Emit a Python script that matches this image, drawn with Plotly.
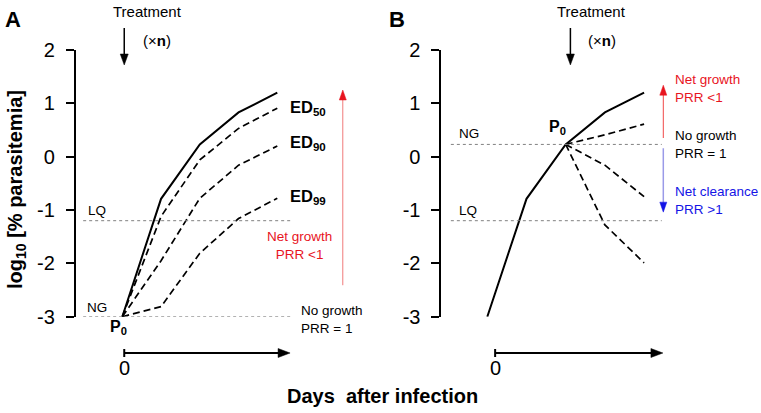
import plotly.graph_objects as go

# ---------------- data ----------------
days = [0, 1, 2, 3, 4]
untreated = [-3.0, -0.79, 0.23, 0.83, 1.2]
ed50 = [-3.0, -1.12, -0.06, 0.53, 0.91]
ed90 = [-3.0, -1.95, -0.78, -0.16, 0.2]
ed99 = [-3.0, -2.81, -1.81, -1.16, -0.78]

days_treat = [2, 3, 4]
b_growth = [0.23, 0.41, 0.61]
b_slow = [0.23, -0.16, -0.75]
b_fast = [0.23, -1.28, -1.99]

ed_labels = ["ED<sub>50</sub>", "ED<sub>90</sub>", "ED<sub>99</sub>"]
yticks = [-3, -2, -1, 0, 1, 2]
yticktext = ["-3", "-2", "-1", "0", "1", "2"]
LQ = -1.2
NG_A = untreated[0]
NG_B = untreated[2]

# ---------------- geometry ----------------
W, H = 761, 413
FONT = "Liberation Sans, Arial, sans-serif"
RED = "#e8141e"
BLUE = "#1414e6"

xA0, pxA = 122.3, 38.75
xB0, pxB = 487.3, 39.2
rA = [-1.2, 6.2]
rB = [-1.17, 6.9]
domA = [(xA0 + rA[0] * pxA) / W, (xA0 + rA[1] * pxA) / W]
domB = [(xB0 + rB[0] * pxB) / W, (xB0 + rB[1] * pxB) / W]
ydom = [1 - 316.7 / H, 1 - 50 / H]


def py(p):
    return 1 - p / H


fig = go.Figure()

solid = dict(color="black", width=2)
dashed = dict(color="black", width=1.7, dash="7px,4px")

fig.add_trace(go.Scatter(x=days, y=untreated, mode="lines", line=solid, xaxis="x", yaxis="y", showlegend=False))
for s in (ed50, ed90, ed99):
    fig.add_trace(go.Scatter(x=days, y=s, mode="lines", line=dashed, xaxis="x", yaxis="y", showlegend=False))

fig.add_trace(go.Scatter(x=days, y=untreated, mode="lines", line=solid, xaxis="x2", yaxis="y2", showlegend=False))
for s in (b_growth, b_slow, b_fast):
    fig.add_trace(go.Scatter(x=days_treat, y=s, mode="lines", line=dashed, xaxis="x2", yaxis="y2", showlegend=False))

yax = dict(range=[-3, 2], domain=ydom, tickvals=yticks, ticktext=yticktext, automargin=False,
           showline=True, linecolor="black", linewidth=2, ticks="outside",
           ticklen=8, tickwidth=2, tickcolor="black", showgrid=False, zeroline=False,
           ticklabelstandoff=7,
           tickfont=dict(family=FONT, size=20, color="black"), fixedrange=True)

fig.update_layout(
    template="none",
    width=W, height=H, margin=dict(l=0, r=0, t=0, b=0, pad=0), autosize=False,
    paper_bgcolor="white", plot_bgcolor="white", showlegend=False,
    xaxis=dict(range=rA, domain=domA, visible=False, anchor="y", automargin=False),
    yaxis=dict(**yax, anchor="x"),
    xaxis2=dict(range=rB, domain=domB, visible=False, anchor="y2", automargin=False),
    yaxis2=dict(**yax, anchor="x2"),
)

shapes = []
dot = dict(color="#808080", width=1, dash="dot")
# dotted reference lines
shapes.append(dict(type="line", xref="x", yref="y", x0=-1.01, x1=4.35, y0=LQ, y1=LQ, line=dot))
shapes.append(dict(type="line", xref="x", yref="y", x0=-1.01, x1=4.35, y0=NG_A, y1=NG_A, line=dot))
shapes.append(dict(type="line", xref="x2", yref="y2", x0=-0.93, x1=4.45, y0=LQ, y1=LQ, line=dot))
shapes.append(dict(type="line", xref="x2", yref="y2", x0=-0.93, x1=4.45, y0=NG_B, y1=NG_B, line=dot))


def vline(xr, yr, x, y0, y1, color, width):
    shapes.append(dict(type="line", xref=xr, yref=yr, x0=x, x1=x, y0=y0, y1=y1,
                       line=dict(color=color, width=width)))


def head(xr, yr, x, y, direction, color, w=4.5, L=11):
    # triangular arrow head in pixel units, anchored at its tip
    if direction == "up":
        path = f"M 0 0 L {-w} {-L} L {w} {-L} Z"
    elif direction == "down":
        path = f"M 0 0 L {-w} {L} L {w} {L} Z"
    else:  # right
        path = f"M 0 0 L {-L} {w} L {-L} {-w} Z"
    shapes.append(dict(type="path", xref=xr, yref=yr, xsizemode="pixel", ysizemode="pixel",
                       xanchor=x, yanchor=y, path=path, fillcolor=color,
                       line=dict(color=color, width=0.5)))


# coloured arrows
vline("x", "y", 5.69, -2.41, 1.1, "#f07a7a", 1)
head("x", "y", 5.69, 1.25, "up", RED, w=3.5, L=10)
vline("x2", "y2", 4.49, 0.35, 1.2, "#f04848", 1)
head("x2", "y2", 4.49, 1.34, "up", RED, w=3.5, L=10)
vline("x2", "y2", 4.49, 0.16, -0.9, "#9a9ae8", 1.5)
head("x2", "y2", 4.49, -1.04, "down", BLUE, w=3.5, L=10)

# treatment arrows
for xr, xa in (("x", 0.05), ("x2", 2.12)):
    vline(xr, "paper", xa, py(28), py(56), "black", 1.5)
    head(xr, "paper", xa, py(65), "down", "black", w=4, L=11)

# day arrows
for xr, x0, x1 in (("x", 0.05, 4.33), ("x2", 0.2, 4.48)):
    shapes.append(dict(type="line", xref=xr, yref="paper", x0=x0, x1=x1 - 0.2, y0=py(353), y1=py(353),
                       line=dict(color="black", width=2)))
    head(xr, "paper", x1, py(353), "right", "black", w=4.5, L=12)
    vline(xr, "paper", x0, py(357), py(349), "black", 2)

fig.update_layout(shapes=shapes)

ann = []


def txt(text, x, y, xref, yref, size=13.5, color="black", bold=False, xanchor="center", **kw):
    if bold:
        text = "<b>" + text + "</b>"
    ann.append(dict(text=text, x=x, y=y, xref=xref, yref=yref, showarrow=False,
                    xanchor=xanchor, yanchor="middle",
                    font=dict(family=FONT, size=size, color=color), **kw))


# panel labels and axis titles
txt("A", 13 / W, py(20), "paper", "paper", size=22, bold=True)
txt("B", 397 / W, py(20), "paper", "paper", size=22, bold=True)
txt("log<sub>10</sub> [% parasitemia]", 16 / W, py(190), "paper", "paper", size=20, bold=True, textangle=-90)
txt("Days\u00a0 after infection", 382 / W, py(396), "paper", "paper", size=20, bold=True)

for xr, xt, xn in (("x", 0.65, 0.9), ("x2", 2.67, 2.93)):
    txt("Treatment", xt, py(11), xr, "paper", size=15)
    txt("(\u00d7<b>n</b>)", xn, py(40), xr, "paper", size=15)

for xr, x0 in (("x", 0.05), ("x2", 0.2)):
    txt("0", x0, py(368), xr, "paper", size=20)

# panel A labels
txt("P<sub>0</sub>", -0.11, py(327), "x", "paper", size=16, bold=True)
txt("NG", -0.65, -2.82, "x", "y")
txt("LQ", -0.65, -1.0, "x", "y")
for lab, s, dy in zip(ed_labels, (ed50, ed90, ed99), (0.0, 0.06, 0.02)):
    txt(lab, 4.28, s[-1] + dy, "x", "y", size=16.5, bold=True, xanchor="left")
txt("Net growth<br>PRR &lt;1", 4.56, -1.66, "x", "y", color=RED)
txt("No growth<br>PRR = 1", 4.56, py(319), "x", "paper", xanchor="left", align="left")

# panel B labels
txt("P<sub>0</sub>", 1.8, 0.54, "x2", "y2", size=16, bold=True)
txt("NG", -0.47, 0.44, "x2", "y2")
txt("LQ", -0.49, -1.0, "x2", "y2")
txt("Net growth<br>PRR &lt;1", 4.74, 1.27, "x2", "y2", color=RED, xanchor="left", align="left")
txt("No growth<br>PRR = 1", 4.74, 0.22, "x2", "y2", xanchor="left", align="left")
txt("Net clearance<br>PRR &gt;1", 4.74, -0.83, "x2", "y2", color=BLUE, xanchor="left", align="left")

fig.update_layout(annotations=ann)
fig.write_html("out.html", config={"responsive": False, "displayModeBar": False},
               post_script="document.body.style.margin='0px';")
